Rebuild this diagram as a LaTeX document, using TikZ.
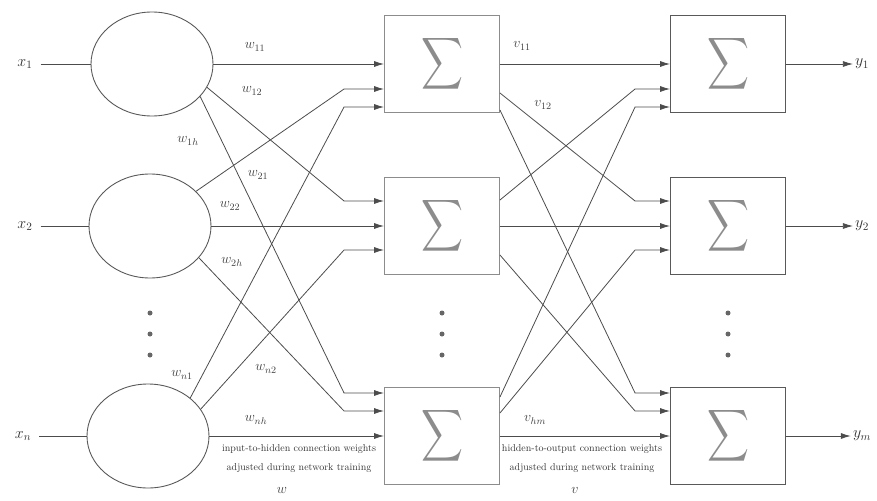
\RequirePackage{fix-cm}
\documentclass[tikz,border=0pt]{standalone}
\usepackage{graphicx}
\usetikzlibrary{shapes.geometric,arrows.meta,calc}
\begin{document}
\begin{tikzpicture}[x=1pt,y=-1pt,
  ln/.style={draw=black!70, line width=0.8pt},
  arr/.style={ln, -{Latex[length=10pt,width=6pt]}},
  neuron/.style={ellipse, draw=black!65, line width=0.9pt, minimum width=122pt, minimum height=104pt, inner sep=0pt},
  sumbox/.style={rectangle, draw=black!45, line width=0.9pt, minimum width=115pt, minimum height=97pt, inner sep=0pt, text=black!45},
  outbox/.style={sumbox, draw=black!65},
  lbl/.style={font=\fontsize{14}{15}\selectfont, text=black!75, inner sep=1pt},
  io/.style={font=\fontsize{16}{18}\selectfont, text=black!80, inner sep=2pt},
  note/.style={font=\fontsize{10}{11}\selectfont, text=black!80, inner sep=0pt},
  dotst/.style={fill=black!60, circle, inner sep=0pt, minimum size=5pt}
]
\useasboundingbox (0,0) rectangle (877,500);
\newcommand{\sumsign}{\resizebox{42pt}{38pt}{$\displaystyle\sum$}}

% input labels
\node[io] (x1) at (25,64) {$x_1$};
\node[io] (x2) at (25,226) {$x_2$};
\node[io] (x3) at (23,436) {$x_n$};

% circles
\node[neuron] (c1) at (152,64) {};
\node[neuron] (c2) at (150,226) {};
\node[neuron] (c3) at (148,436) {};

% middle boxes
\node[sumbox] (B1) at (442,64) {\sumsign};
\node[sumbox] (B2) at (442,226) {\sumsign};
\node[sumbox] (B3) at (442,436) {\sumsign};

% right boxes
\node[outbox] (R1) at (728,64) {\sumsign};
\node[outbox] (R2) at (728,226) {\sumsign};
\node[outbox] (R3) at (728,436) {\sumsign};

% output labels
\node[io] (y1) at (862,64) {$y_1$};
\node[io] (y2) at (862,226) {$y_2$};
\node[io] (y3) at (862,436) {$y_m$};

% dots
\foreach \xx/\nm in {150/a,442/b,728/c}{
  \node[dotst] (d\nm1) at (\xx,313) {};
  \node[dotst] (d\nm2) at (\xx,334) {};
  \node[dotst] (d\nm3) at (\xx,355) {};
}

% inputs
\draw[ln, shorten <=6pt] (x1.east) -- (c1.west);
\draw[ln, shorten <=6pt] (x2.east) -- (c2.west);
\draw[ln, shorten <=6pt] (x3.east) -- (c3.west);

% input points of boxes
\foreach \b in {B,R}{
  \coordinate (\b1i1) at ($(\b1.west)$);
  \coordinate (\b1i2) at ($(\b1.west)+(0,25)$);
  \coordinate (\b1i3) at ($(\b1.west)+(0,43)$);
  \coordinate (\b2i1) at ($(\b2.west)+(0,-25)$);
  \coordinate (\b2i2) at ($(\b2.west)$);
  \coordinate (\b2i3) at ($(\b2.west)+(0,24)$);
  \coordinate (\b3i1) at ($(\b3.west)+(0,-43)$);
  \coordinate (\b3i2) at ($(\b3.west)+(0,-25)$);
  \coordinate (\b3i3) at ($(\b3.west)$);
}

% circles -> middle boxes
\draw[arr] (c1.east) -- (B1i1);
\draw[arr] (c1.-23) -- ($(B2i1)+(-40,0)$) -- (B2i1);
\draw[arr] (c1.-34) -- ($(B3i1)+(-40,0)$) -- (B3i1);
\draw[arr] (c2.37) -- ($(B1i2)+(-40,0)$) -- (B1i2);
\draw[arr] (c2.east) -- (B2i2);
\draw[arr] (c2.-33) -- ($(B3i2)+(-40,0)$) -- (B3i2);
\draw[arr] (c3.42) -- ($(B1i3)+(-40,0)$) -- (B1i3);
\draw[arr] (c3.27) -- ($(B2i3)+(-40,0)$) -- (B2i3);
\draw[arr] (c3.east) -- (B3i3);

% middle boxes -> right boxes
\draw[arr] (B1.east) -- (R1i1);
\draw[arr] ($(B1.east)+(0,29)$) -- ($(R2i1)+(-35,0)$) -- (R2i1);
\draw[arr] ($(B1.east)+(0,46)$) -- ($(R3i1)+(-35,0)$) -- (R3i1);
\draw[arr] ($(B2.east)+(0,-26)$) -- ($(R1i2)+(-35,0)$) -- (R1i2);
\draw[arr] (B2.east) -- (R2i2);
\draw[arr] ($(B2.east)+(0,29)$) -- ($(R3i2)+(-35,0)$) -- (R3i2);
\draw[arr] ($(B3.east)+(0,-39)$) -- ($(R1i3)+(-35,0)$) -- (R1i3);
\draw[arr] ($(B3.east)+(0,-23)$) -- ($(R2i3)+(-35,0)$) -- (R2i3);
\draw[arr] (B3.east) -- (R3i3);

% outputs
\draw[arr] (R1.east) -- (y1.west);
\draw[arr] (R2.east) -- (y2.west);
\draw[arr] (R3.east) -- (y3.west);

% weight labels
\node[lbl] (l11) at (255,47) {$w_{11}$};
\node[lbl] (l12) at (252,91) {$w_{12}$};
\node[lbl] (l13) at (188,141) {$w_{1h}$};
\node[lbl] (l21) at (258,175) {$w_{21}$};
\node[lbl] (l22) at (230,206) {$w_{22}$};
\node[lbl] (l23) at (232,262) {$w_{2h}$};
\node[lbl] (l31) at (182,375) {$w_{n1}$};
\node[lbl] (l32) at (266,369) {$w_{n2}$};
\node[lbl] (l33) at (256,420) {$w_{nh}$};
\node[lbl] (v11) at (522,46) {$v_{11}$};
\node[lbl] (v12) at (543,105) {$v_{12}$};
\node[lbl] (v33) at (535,420) {$v_{hm}$};

% bottom notes
\node[note] (n1) at (299,449) {input-to-hidden connection weights};
\node[note] (n2) at (299,468) {adjusted during network training};
\node[note] (n3) at (582,449) {hidden-to-output connection weights};
\node[note] (n4) at (582,468) {adjusted during network training};
\node[lbl] (wl) at (282,490) {$w$};
\node[lbl] (vl) at (575,490) {$v$};
\end{tikzpicture}
\end{document}
